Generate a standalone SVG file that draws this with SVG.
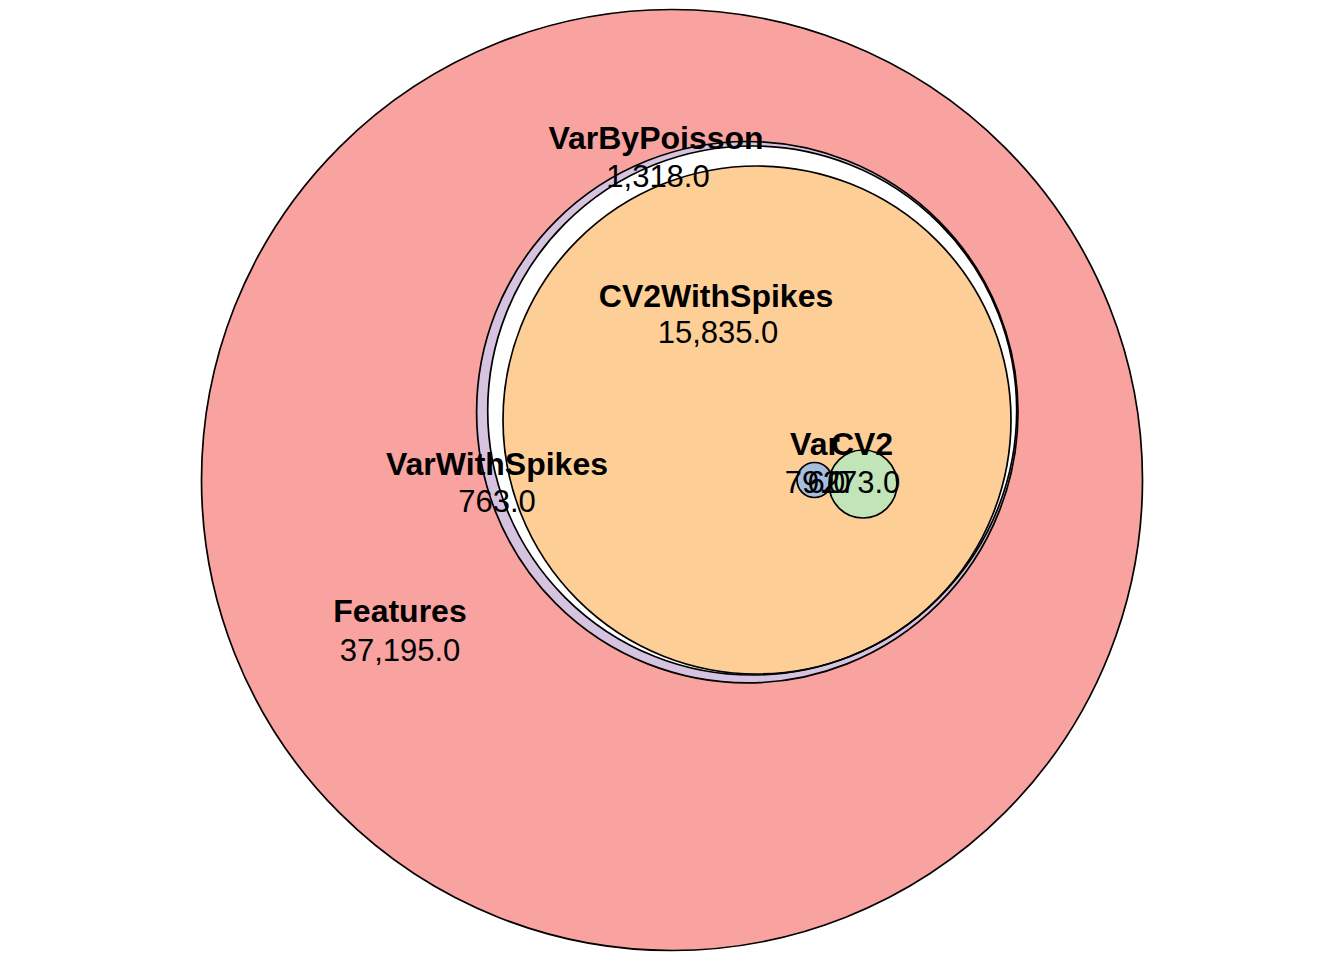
<svg xmlns="http://www.w3.org/2000/svg" width="1344" height="960" viewBox="0 0 1344 960">
<style>
.edge{fill:none;stroke:#000;stroke-width:1.7}
.name{font-family:"Liberation Sans",Arial,sans-serif;font-size:32px;font-weight:bold;text-anchor:middle;fill:#000}
.qty{font-family:"Liberation Sans",Arial,sans-serif;font-size:31px;text-anchor:middle;fill:#000}
</style>
<rect width="1344" height="960" fill="#ffffff"/>
<g id="fills">
<circle id="fill-Features" cx="672" cy="480" r="470.5" fill="#F8A39F"/>
<circle id="fill-VarWithSpikes" cx="747.3" cy="412.2" r="270.7" fill="#D6C3E0"/>
<circle id="fill-VarByPoisson" cx="752.2" cy="410.5" r="264.5" fill="#FFFFFF"/>
<circle id="fill-CV2WithSpikes" cx="757" cy="420" r="254" fill="#FDCF96"/>
<circle id="fill-Var" cx="814.5" cy="480" r="17.5" fill="#A6BDDD"/>
<circle id="fill-CV2" cx="863" cy="484" r="34" fill="#C1E5B8"/>
</g>
<g id="edges">
<circle class="edge" cx="672" cy="480" r="470.5"/>
<circle class="edge" cx="747.3" cy="412.2" r="270.7"/>
<circle class="edge" cx="752.2" cy="410.5" r="264.5"/>
<circle class="edge" cx="757" cy="420" r="254"/>
<circle class="edge" cx="814.5" cy="480" r="17.5"/>
<circle class="edge" cx="863" cy="484" r="34"/>
</g>
<g id="Features">
<text class="name" x="400" y="622">Features</text>
<text class="qty" x="400" y="661">37,195.0</text>
</g>
<g id="VarWithSpikes">
<text class="name" x="497" y="475">VarWithSpikes</text>
<text class="qty" x="497" y="512">763.0</text>
</g>
<g id="VarByPoisson">
<text class="name" x="656" y="148.5">VarByPoisson</text>
<text class="qty" x="658" y="187">1,318.0</text>
</g>
<g id="CV2WithSpikes">
<text class="name" x="716" y="307">CV2WithSpikes</text>
<text class="qty" x="718" y="343">15,835.0</text>
</g>
<g id="Var">
<text class="name" x="815" y="455">Var</text>
<text class="qty" x="815" y="493">79.0</text>
</g>
<g id="Var-CV2">
<text class="qty" x="829" y="493">6.0</text>
</g>
<g id="CV2">
<text class="name" x="862" y="455">CV2</text>
<text class="qty" x="861.5" y="493">273.0</text>
</g>
</svg>
